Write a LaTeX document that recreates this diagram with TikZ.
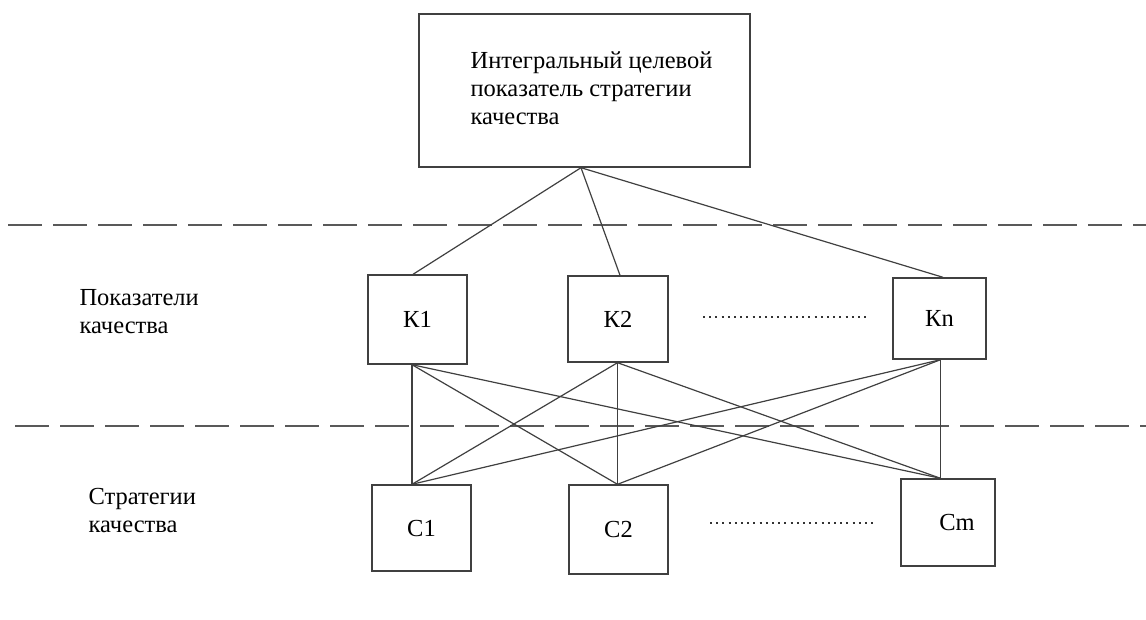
\documentclass[tikz,border=0pt]{standalone}
\usepackage{fontspec}
\setmainfont{Liberation Serif}
\begin{document}
\begin{tikzpicture}[x=1pt,y=-1pt,
  every node/.style={font=\fontsize{24.5}{28}\selectfont, text=black},
  box/.style={draw=black!75, line width=1.4pt, inner sep=0pt},
  link/.style={draw=black!75, line width=1.2pt},
  sep/.style={draw=black!65, line width=1.6pt, dash pattern=on 34pt off 11pt},
  dots/.style={draw=black!80, line width=2pt, dash pattern=on 2pt off 4.2pt},
  lab/.style={align=left, anchor=west}]
\useasboundingbox (0,0) rectangle (1146,619);
% separators
\draw[sep] (8,225) -- (1146,225);
\draw[sep] (15,426) -- (1146,426);
% top box
\node[box, minimum width=331pt, minimum height=153pt, align=left] (T) at (584.5,90.5)
  {\hspace*{14pt}\begin{tabular}{@{}l@{}}Интегральный целевой\\показатель стратегии\\качества\end{tabular}};
% K row
\node[box, minimum width=99pt, minimum height=89pt] (K1) at (417.5,319.5) {К1};
\node[box, minimum width=100pt, minimum height=86pt] (K2) at (618,319) {К2};
\node[box, minimum width=93pt, minimum height=81pt] (Kn) at (939.5,318.5) {Кn};
% C row
\node[box, minimum width=99pt, minimum height=86pt] (C1) at (421.5,528) {С1};
\node[box, minimum width=99pt, minimum height=89pt] (C2) at (618.5,529.5) {С2};
\node[box, minimum width=94pt, minimum height=87pt] (Cm) at (948,522.5) {\hspace*{18pt}Сm};
% left labels
\node[lab] (LK) at (76,312) {Показатели\\качества};
\node[lab] (LC) at (85,510) {Стратегии\\качества};
% connection points
\coordinate (Tb) at ([xshift=-3.5pt]T.south);
\coordinate (K1t) at ([xshift=-4.5pt]K1.north);
\coordinate (K1b) at ([xshift=-5.5pt]K1.south);
\coordinate (K2t) at ([xshift=2pt]K2.north);
\coordinate (K2b) at ([xshift=-0.5pt]K2.south);
\coordinate (Knt) at ([xshift=3.5pt]Kn.north);
\coordinate (Knb) at ([xshift=1pt]Kn.south);
\coordinate (C1t) at ([xshift=-9.5pt]C1.north);
\coordinate (C2t) at ([xshift=-1pt]C2.north);
\coordinate (Cmt) at ([xshift=-7.5pt]Cm.north);
% dotted ellipses
\coordinate (d1a) at (703,317); \coordinate (d1b) at (867,317);
\coordinate (d2a) at (710,523); \coordinate (d2b) at (873,523);
\draw[dots] (d1a) -- (d1b);
\draw[dots] (d2a) -- (d2b);
% top links
\draw[link] (Tb) -- (K1t);
\draw[link] (Tb) -- (K2t);
\draw[link] (Tb) -- (Knt);
% K to C links
\foreach \k in {K1b,K2b,Knb}{
  \foreach \c in {C1t,C2t,Cmt}{
    \draw[link] (\k) -- (\c);
  }
}
\end{tikzpicture}
\end{document}
